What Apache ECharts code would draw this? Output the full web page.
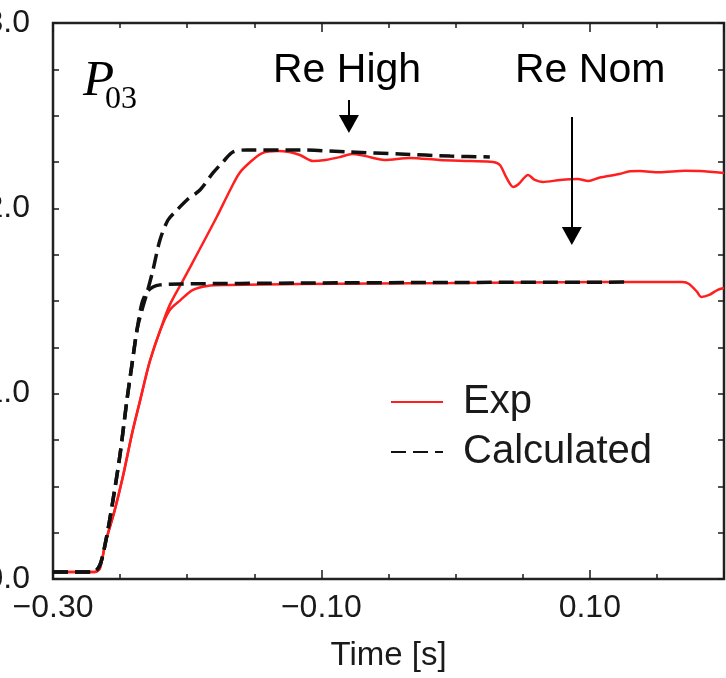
<!DOCTYPE html>
<html><head><meta charset="utf-8">
<script src="https://cdn.jsdelivr.net/npm/echarts@6/dist/echarts.min.js"></script>
<style>html,body{margin:0;padding:0;background:#fff}#c{width:726px;height:678px}</style>
</head><body><div id="c"></div>
<script>
// ---- data (time [s], P03) ----
const xTickLabels = ['\u22120.30', '\u22120.10', '0.10'];
const yTickLabels = ['0.0', '1.0', '2.0', '3.0'];
const legendNames = ['Exp', 'Calculated'];

const expRise = [[-0.300,0.038],[-0.269,0.038],[-0.265,0.059],[-0.261,0.194],[-0.254,0.372],[-0.248,0.550],[-0.241,0.788],[-0.235,0.966],[-0.228,1.171],[-0.220,1.344]];
const expHigh = [[-0.213,1.479],[-0.203,1.613],[-0.191,1.775],[-0.178,1.953],[-0.168,2.099],[-0.161,2.191],[-0.153,2.250],[-0.144,2.298],[-0.133,2.309],[-0.124,2.304],[-0.116,2.288],[-0.106,2.255],[-0.097,2.261],[-0.086,2.277],[-0.077,2.293],[-0.068,2.283],[-0.053,2.261],[-0.034,2.272],[-0.012,2.261],[0.011,2.255],[0.028,2.250],[0.033,2.234],[0.038,2.164],[0.043,2.115],[0.047,2.131],[0.054,2.180],[0.059,2.153],[0.065,2.142],[0.078,2.153],[0.091,2.158],[0.099,2.148],[0.107,2.165],[0.122,2.185],[0.130,2.200],[0.137,2.201],[0.152,2.195],[0.171,2.203],[0.182,2.201],[0.200,2.191]];
const expNom = [[-0.213,1.451],[-0.205,1.505],[-0.196,1.559],[-0.185,1.581],[-0.170,1.586],[-0.116,1.592],[-0.004,1.597],[0.107,1.602],[0.169,1.602],[0.174,1.592],[0.180,1.549],[0.183,1.522],[0.189,1.533],[0.195,1.559],[0.200,1.570]];

const calcRise = [[-0.300,0.038],[-0.270,0.038],[-0.265,0.076],[-0.2605,0.211],[-0.2553,0.426],[-0.2501,0.669],[-0.2449,0.966],[-0.2412,1.155],[-0.2374,1.344]];
const calcHigh = [[-0.2337,1.451],[-0.2300,1.543],[-0.2255,1.667],[-0.2203,1.829],[-0.2143,1.937],[-0.2076,1.991],[-0.2002,2.045],[-0.1905,2.099],[-0.1808,2.191],[-0.1734,2.250],[-0.1659,2.304],[-0.1555,2.315],[-0.116,2.315],[-0.079,2.304],[-0.0415,2.293],[-0.004,2.282],[0.0255,2.277]];
const calcNom = [[-0.2337,1.489],[-0.2300,1.549],[-0.2255,1.576],[-0.2203,1.587],[-0.2054,1.592],[-0.116,1.597],[-0.004,1.600],[0.128,1.602]];

// annotation arrows (data coords): [x, yStart, yEnd]
const arrowHigh = [-0.0795, 2.585, 2.455];
const arrowNom = [0.0866, 2.493, 1.851];

const FONT = 'Liberation Sans, Arial, Helvetica, sans-serif';
const RED = '#ff1f1f';
const INK = '#1a1a1a';

const chart = echarts.init(document.getElementById('c'), null, {renderer: 'canvas'});

function minorX(pos) {
  return {
    type: 'value', position: pos, min: -0.30, max: 0.20, interval: 0.05,
    axisLine: {show: false, onZero: false}, splitLine: {show: false},
    axisTick: {show: true, inside: true, length: 5, lineStyle: {color: INK, width: 1.5}},
    axisLabel: {show: false}
  };
}
function majorX(pos, labels) {
  return {
    type: 'value', position: pos, min: 0, max: 0.50, interval: 0.2,
    axisLine: {show: false, onZero: false}, splitLine: {show: false},
    axisTick: {show: true, inside: true, length: 9, lineStyle: {color: INK, width: 1.5}},
    axisLabel: {
      show: labels, margin: 13, fontSize: 32, fontFamily: FONT, color: INK,
      showMinLabel: true, showMaxLabel: true,
      formatter: function (v) {
        const i = Math.round(v / 0.2);
        return (Math.abs(v - i * 0.2) < 1e-6 && i < xTickLabels.length) ? xTickLabels[i] : '';
      }
    },
    name: labels ? 'Time [s]' : '', nameLocation: 'middle', nameGap: 60,
    nameTextStyle: {fontSize: 33, fontFamily: FONT, color: INK}
  };
}
function yAx(pos, labels) {
  return {
    type: 'value', position: pos, min: 0, max: 3, interval: 0.25,
    axisLine: {show: false, onZero: false}, splitLine: {show: false},
    axisTick: {show: true, inside: true, length: 6, lineStyle: {color: INK, width: 1.5}},
    axisLabel: {
      show: labels, margin: 23, fontSize: 32, fontFamily: FONT, color: INK,
      showMinLabel: true, showMaxLabel: true,
      formatter: function (v) {
        const i = Math.round(v);
        return Math.abs(v - i) < 1e-6 ? yTickLabels[i] : '';
      }
    }
  };
}

const expStyle = {color: RED, width: 2.5, type: 'solid'};
const calcStyle = {color: '#111', width: 3.5, type: [15, 7]};

function lineSeries(name, data, style, z) {
  return {
    name: name, type: 'line', xAxisIndex: 0, yAxisIndex: 0, data: data,
    showSymbol: false, symbol: 'none', smooth: 0.3, z: z,
    lineStyle: style, itemStyle: {color: style.color},
    emphasis: {disabled: true}, silent: true
  };
}

const expHighFull = expRise.concat(expHigh);
const expNomFull = expRise.concat(expNom);
const calcHighFull = calcRise.concat(calcHigh);
const calcNomFull = calcRise.concat(calcNom);

const arrowLine = {
  silent: true, symbol: ['none', 'triangle'], symbolSize: [20, 18],
  label: {show: false}, emphasis: {disabled: true},
  lineStyle: {color: '#000', width: 2, type: 'solid'},
  data: [
    [{coord: [arrowHigh[0], arrowHigh[1]]}, {coord: [arrowHigh[0], arrowHigh[2]]}],
    [{coord: [arrowNom[0], arrowNom[1]]}, {coord: [arrowNom[0], arrowNom[2]]}]
  ]
};

const s4 = lineSeries(legendNames[1], calcNomFull, calcStyle, 4);
s4.markLine = arrowLine;

chart.setOption({
  animation: false,
  backgroundColor: '#fff',
  grid: {left: 53, right: 2, top: 23, bottom: 99, show: true, borderColor: '#222', borderWidth: 2.5,
         backgroundColor: 'transparent', containLabel: false, outerBoundsMode: 'none'},
  xAxis: [minorX('bottom'), majorX('bottom', true), minorX('top'), majorX('top', false)],
  yAxis: [yAx('left', true), yAx('right', false)],
  legend: {
    show: true, orient: 'vertical', left: 385, top: 376,
    data: legendNames, itemWidth: 52, itemHeight: 14, itemGap: 8,
    itemStyle: {opacity: 0},
    textStyle: {fontSize: 40, fontFamily: FONT, color: INK, lineHeight: 42, padding: [0, 0, 0, 15]},
    selectedMode: false
  },
  graphic: [
    {type: 'text', left: 83, top: 56, style: {text: 'P', font: 'italic 51px "Liberation Serif", "Times New Roman", serif', fill: '#000'}},
    {type: 'text', left: 105, top: 84, style: {text: '03', font: '32px "Liberation Serif", "Times New Roman", serif', fill: '#000'}},
    {type: 'text', left: 273, top: 50, style: {text: 'Re High', font: '41px "Liberation Sans", Arial, sans-serif', fill: '#000'}},
    {type: 'text', left: 515, top: 50, style: {text: 'Re Nom', font: '41px "Liberation Sans", Arial, sans-serif', fill: '#000'}}
  ],
  series: [
    lineSeries(legendNames[0], expHighFull, expStyle, 2),
    lineSeries(legendNames[0], expNomFull, expStyle, 2),
    lineSeries(legendNames[1], calcHighFull, calcStyle, 3),
    s4
  ]
});
</script></body></html>
